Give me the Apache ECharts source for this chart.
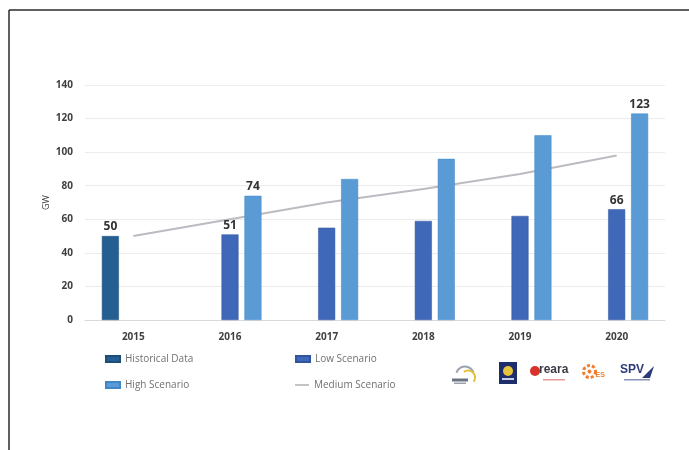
<!DOCTYPE html>
<html>
<head>
<meta charset="utf-8">
<script src="https://cdn.jsdelivr.net/npm/echarts@6/dist/echarts.min.js"></script>
<style>
  html, body { margin: 0; padding: 0; background: #ffffff; }
  #chart { width: 689px; height: 450px; }
</style>
</head>
<body>
<div id="chart"></div>
<script>
// Solar capacity outlook, GW
const years = ['2015', '2016', '2017', '2018', '2019', '2020'];
const historical = [50, null, null, null, null, null];
const lowScenario = [null, 51, 55, 59, 62, 66];
const highScenario = [null, 74, 84, 96, 110, 123];
const mediumScenario = [50, 60, 70, 78, 87, 98];
const yTicks = [0, 20, 40, 60, 80, 100, 120, 140];
// years whose bar carries a value label, per series
const labelledHistorical = ['2015'];
const labelledLow = ['2016', '2020'];
const labelledHigh = ['2016', '2020'];

const textColor = '#404040';
const font = 'Open Sans';

function barLabel(list) {
  return {
    show: true,
    position: 'top',
    distance: 3,
    color: '#333333',
    fontFamily: font,
    fontWeight: 'bold',
    fontSize: 12,
    formatter: p => list.includes(p.name) ? String(p.value) : ''
  };
}

const chart = echarts.init(document.getElementById('chart'), null, { renderer: 'canvas' });

function legendAt(name, left, top, icon, w, h) {
  return {
    data: [name],
    left: left,
    top: top,
    icon: icon,
    itemWidth: w,
    itemHeight: h,
    itemGap: 0,
    selectedMode: false,
    textStyle: { color: '#707070', fontFamily: font, fontSize: 10 }
  };
}

chart.setOption({
  backgroundColor: '#ffffff',
  animation: false,
  grid: { left: 85, right: 24, top: 85, bottom: 130 },
  xAxis: {
    type: 'category',
    data: years,
    axisLine: { show: true, lineStyle: { color: '#d9d9d9', width: 1 } },
    axisTick: { show: false },
    axisLabel: { color: textColor, fontFamily: font, fontSize: 10, fontWeight: 'bold', margin: 12 }
  },
  yAxis: {
    type: 'value',
    min: yTicks[0],
    max: yTicks[yTicks.length - 1],
    interval: yTicks[1] - yTicks[0],
    name: 'GW',
    nameLocation: 'middle',
    nameRotate: 90,
    nameGap: 34,
    nameMoveOverlap: false,
    nameTextStyle: { color: textColor, fontFamily: font, fontSize: 9 },
    axisLine: { show: false },
    axisTick: { show: false },
    axisLabel: { color: textColor, fontFamily: font, fontSize: 10, fontWeight: 'bold', margin: 12 },
    splitLine: { lineStyle: { color: '#ececec', width: 1 } }
  },
  legend: [
    legendAt('Historical Data', 100, 349, 'rect', 14, 6),
    legendAt('Low Scenario', 290, 349, 'rect', 14, 6),
    legendAt('High Scenario', 100, 375, 'rect', 14, 6),
    legendAt('Medium Scenario', 290, 375, 'path://M0,0 L12,0 L12,1.5 L0,1.5 Z', 14, 2)
  ],
  series: [
    {
      name: 'Historical Data',
      type: 'bar',
      data: historical,
      barWidth: 17,
      barGap: '35%',
      itemStyle: { color: '#255e91', borderColor: '#1d4e7a', borderWidth: 0.5 },
      label: barLabel(labelledHistorical)
    },
    {
      name: 'Low Scenario',
      type: 'bar',
      data: lowScenario,
      barWidth: 17,
      barGap: '35%',
      itemStyle: { color: '#3f68b8', borderColor: '#2f559f', borderWidth: 0.5 },
      label: barLabel(labelledLow)
    },
    {
      name: 'High Scenario',
      type: 'bar',
      data: highScenario,
      barWidth: 17,
      barGap: '35%',
      itemStyle: { color: '#5b9bd5', borderColor: '#3f86c8', borderWidth: 0.5 },
      label: barLabel(labelledHigh)
    },
    {
      name: 'Medium Scenario',
      type: 'line',
      data: mediumScenario,
      showSymbol: false,
      symbol: 'none',
      z: 1,
      lineStyle: { color: '#bdbbc2', width: 2 },
      itemStyle: { color: '#bdbbc2' }
    }
  ],
  graphic: [
    // frame edges
    { type: 'line', shape: { x1: 9, y1: 10, x2: 689, y2: 10 }, style: { stroke: '#2b2b2b', lineWidth: 1.5 } },
    { type: 'line', shape: { x1: 9, y1: 10, x2: 9, y2: 450 }, style: { stroke: '#2b2b2b', lineWidth: 1.5 } },
    // partner logos
    {
      type: 'group', left: 452, top: 364,
      children: [
        { type: 'arc', shape: { cx: 13, cy: 12, r: 9, startAngle: Math.PI * 1.1, endAngle: Math.PI * 1.9 }, style: { stroke: '#9aa3ad', lineWidth: 2, fill: null } },
        { type: 'arc', shape: { cx: 16, cy: 14, r: 7, startAngle: Math.PI * 1.3, endAngle: Math.PI * 2.2 }, style: { stroke: '#e3c23a', lineWidth: 2, fill: null } },
        { type: 'rect', shape: { x: 0, y: 15, width: 16, height: 3 }, style: { fill: '#6b7280' } },
        { type: 'rect', shape: { x: 2, y: 19, width: 12, height: 1.5 }, style: { fill: '#9aa3ad' } }
      ]
    },
    {
      type: 'group', left: 499, top: 362,
      children: [
        { type: 'rect', shape: { x: 0, y: 0, width: 18, height: 22 }, style: { fill: '#1e2d6b' } },
        { type: 'circle', shape: { cx: 9, cy: 9, r: 5 }, style: { fill: '#e6c53d' } },
        { type: 'rect', shape: { x: 3, y: 16, width: 12, height: 2 }, style: { fill: '#c9d0e6' } }
      ]
    },
    {
      type: 'group', left: 530, top: 364,
      children: [
        { type: 'circle', shape: { cx: 6, cy: 8, r: 5 }, style: { fill: '#d8322b' } },
        { type: 'text', style: { x: 10, y: 1, text: 'reara', fill: '#3a3a46', font: 'bold 12px Liberation Sans' } },
        { type: 'rect', shape: { x: 14, y: 16, width: 22, height: 1.5 }, style: { fill: '#e39a96' } }
      ]
    },
    {
      type: 'group', left: 581, top: 363,
      children: [
        { type: 'circle', shape: { cx: 9, cy: 10, r: 6 }, style: { fill: null, stroke: '#ef7d2e', lineWidth: 3, lineDash: [3, 2] } },
        { type: 'circle', shape: { cx: 9, cy: 10, r: 2 }, style: { fill: '#ef7d2e' } },
        { type: 'text', style: { x: 15, y: 10, text: 'ES', fill: '#ef7d2e', font: 'bold 7px Liberation Sans' } }
      ]
    },
    {
      type: 'group', left: 620, top: 364,
      children: [
        { type: 'text', style: { x: 0, y: 0, text: 'SPV', fill: '#2d3a7a', font: 'bold 12px Liberation Sans' } },
        { type: 'polygon', shape: { points: [[22, 14], [34, 2], [30, 14]] }, style: { fill: '#2d3a7a' } },
        { type: 'rect', shape: { x: 4, y: 15, width: 26, height: 1.5 }, style: { fill: '#8a93b8' } }
      ]
    }
  ]
});
</script>
</body>
</html>
